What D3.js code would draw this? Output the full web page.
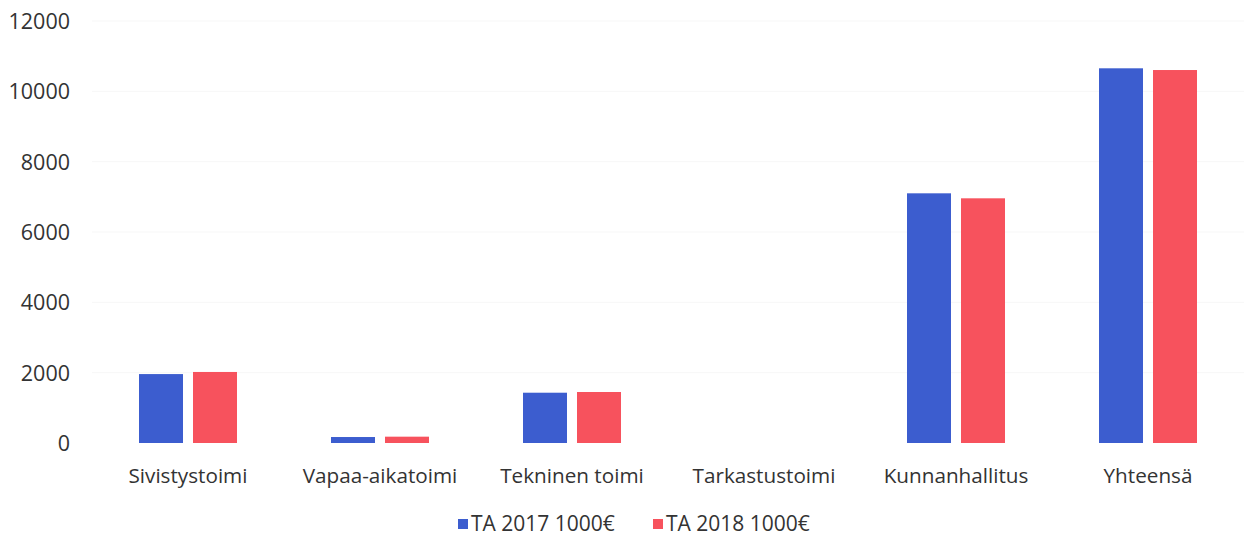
<!DOCTYPE html>
<html><head><meta charset="utf-8">
<script src="https://cdn.jsdelivr.net/npm/d3@7"></script>
<style>body{margin:0;background:#fff;} svg{display:block;} text{font-family:"Open Sans",Lato,sans-serif;fill:#333;}</style>
</head><body>
<svg id="c" width="1246" height="545"></svg>
<script>
const categories = ["Sivistystoimi","Vapaa-aikatoimi","Tekninen toimi","Tarkastustoimi","Kunnanhallitus","Yhteensä"];
const series = ["TA 2017 1000€","TA 2018 1000€"];
const values2017 = [1960,170,1430,0,7100,10655];
const values2018 = [2020,180,1450,0,6958,10606];
const yTicks = [0,2000,4000,6000,8000,10000,12000];
const colors = ["#3c5dcf","#f7525d"];

(function(){
const svg = d3.select("#c");
const pLeft = 92, pRight = 1244, pTop = 21, pBottom = 443;
const x = d3.scaleBand().domain(categories).range([pLeft,pRight]).paddingInner(0).paddingOuter(0);
const y = d3.scaleLinear().domain([0,12000]).range([pBottom,pTop]);
const x1 = d3.scaleBand().domain(series).range([47, x.bandwidth()-47]).paddingInner(10/54);

// faint gridlines
svg.append("g").selectAll("line").data(yTicks.slice(1)).join("line")
  .attr("x1",pLeft).attr("x2",pRight).attr("y1",d=>y(d)).attr("y2",d=>y(d))
  .attr("stroke","#f7f7f7").attr("stroke-width",1);

// y axis
const ya = svg.append("g").attr("transform",`translate(${pLeft-22},0)`)
  .call(d3.axisLeft(y).tickValues(yTicks).tickFormat(d3.format("d")).tickSize(0).tickPadding(0));
ya.select(".domain").remove();
ya.selectAll("text").style("font-size","21.5px").style("font-family","'Open Sans', sans-serif").attr("fill","#333").attr("dy","0.35em");

// bars
const data = categories.map((c,i)=>({c, v:[values2017[i],values2018[i]]}));
const g = svg.append("g");
data.forEach(d=>{
  series.forEach((s,j)=>{
    if (d.v[j] <= 0) return;
    g.append("rect")
      .attr("x", x(d.c)+x1(s)).attr("width", x1.bandwidth())
      .attr("y", y(d.v[j])).attr("height", y(0)-y(d.v[j]))
      .attr("fill", colors[j]);
  });
});

// x axis labels
const xa = svg.append("g").attr("transform",`translate(0,${pBottom+33})`)
  .call(d3.axisBottom(x).tickSize(0).tickPadding(0));
xa.select(".domain").remove();
xa.selectAll("text").style("font-size","20.7px").style("font-family","'Open Sans', sans-serif").attr("fill","#333").attr("dy","0.35em");

// legend
const legX = [458, 653];
const leg = svg.append("g");
series.forEach((s,j)=>{
  leg.append("rect").attr("x",legX[j]).attr("y",519).attr("width",10).attr("height",10).attr("fill",colors[j]);
  leg.append("text").attr("x",legX[j]+13).attr("y",524).attr("dy","0.35em")
    .style("font-size","21px").text(s);
});
})();
</script>
</body></html>
